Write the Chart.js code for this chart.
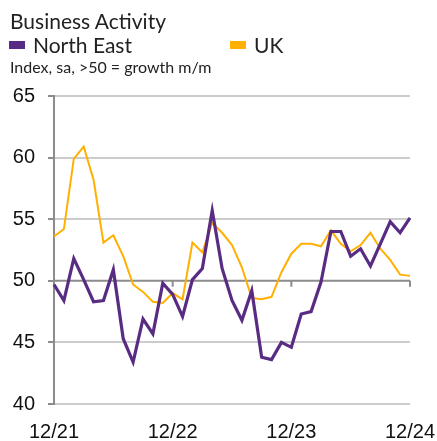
<!DOCTYPE html>
<html>
<head>
<meta charset="utf-8">
<script src="https://cdn.jsdelivr.net/npm/chart.js@4/dist/chart.umd.min.js"></script>
<style>
  html, body { margin: 0; padding: 0; background: #fff; }
  #wrap { position: relative; width: 437px; height: 441px; overflow: hidden; }
  #c { position: absolute; left: 0; top: 0; }
  .t { position: absolute; font-family: Lato, "Noto Sans", sans-serif; color: #222; white-space: nowrap; line-height: 1; }
  .sw { position: absolute; width: 16px; height: 8px; }
</style>
</head>
<body>
<div id="wrap">
  <canvas id="c" width="437" height="441"></canvas>
  <div class="t" style="left:10px; top:10px; font-size:21px;">Business Activity</div>
  <div class="sw" style="left:9px; top:41px; background:#582C83;"></div>
  <div class="t" style="left:33px; top:34px; font-size:21px;">North East</div>
  <div class="sw" style="left:230px; top:41px; background:#FFB000;"></div>
  <div class="t" style="left:254px; top:34px; font-size:21px;">UK</div>
  <div class="t" style="left:10px; top:59px; font-size:16px;">Index, sa, &gt;50 = growth m/m</div>
</div>
<script>
const months = ["12/21","01/22","02/22","03/22","04/22","05/22","06/22","07/22","08/22","09/22","10/22","11/22",
                "12/22","01/23","02/23","03/23","04/23","05/23","06/23","07/23","08/23","09/23","10/23","11/23",
                "12/23","01/24","02/24","03/24","04/24","05/24","06/24","07/24","08/24","09/24","10/24","11/24","12/24"];
const shownLabels = ["12/21","12/22","12/23","12/24"];
const northEast = [49.7,48.4,51.8,50.1,48.3,48.4,50.9,45.3,43.4,46.9,45.7,49.8,
                   48.9,47.1,50.1,51.0,55.7,51.0,48.4,46.8,49.2,43.8,43.6,45.0,
                   44.6,47.3,47.5,49.9,54.0,54.0,52.0,52.6,51.2,53.0,54.8,53.9,55.1];
const uk = [53.6,54.2,59.9,60.9,58.2,53.1,53.7,52.0,49.7,49.1,48.3,48.2,
            49.0,48.5,53.1,52.3,54.7,53.9,52.9,51.1,48.6,48.5,48.7,50.7,
            52.2,53.0,53.0,52.8,54.1,53.0,52.4,52.9,53.9,52.6,51.7,50.5,50.4];
const yTicks = [40,45,50,55,60,65];

const axis50 = {
  id: 'axis50',
  beforeDatasetsDraw(chart) {
    const {ctx, chartArea, scales} = chart;
    const y = scales.y.getPixelForValue(50);
    ctx.save();
    ctx.strokeStyle = '#8c8c8c';
    ctx.lineWidth = 2;
    ctx.beginPath();
    ctx.moveTo(chartArea.left, y);
    ctx.lineTo(chartArea.right, y);
    months.forEach((m, i) => {
      if (shownLabels.includes(m)) {
        const x = scales.x.getPixelForValue(i);
        ctx.moveTo(x, y);
        ctx.lineTo(x, y + 6);
      }
    });
    ctx.stroke();
    ctx.restore();
  }
};

new Chart(document.getElementById('c'), {
  type: 'line',
  data: {
    labels: months,
    datasets: [
      { label: 'UK', data: uk, borderColor: '#FFB000', borderWidth: 2, pointRadius: 0, tension: 0, order: 2 },
      { label: 'North East', data: northEast, borderColor: '#582C83', borderWidth: 3.2, pointRadius: 0, tension: 0, order: 1 }
    ]
  },
  plugins: [axis50],
  options: {
    responsive: false,
    animation: false,
    layout: { padding: { left: 12, right: 27, top: 96, bottom: 0 } },
    plugins: { legend: { display: false }, title: { display: false }, tooltip: { enabled: false } },
    scales: {
      x: {
        offset: false,
        afterFit: s => { s.height = 37; s.paddingRight = 0; s.paddingLeft = 0; },
        grid: { display: false, drawTicks: false },
        border: { display: false },
        ticks: {
          autoSkip: false, maxRotation: 0, padding: 16,
          color: '#111',
          font: { family: '"Liberation Sans", Arial, sans-serif', size: 20 },
          callback: (v, i) => shownLabels.includes(months[i]) ? months[i] : ''
        }
      },
      y: {
        min: 40, max: 65,
        afterFit: s => { s.width = 42; },
        afterBuildTicks: s => { s.ticks = yTicks.map(v => ({ value: v })); },
        grid: {
          color: c => c.tick && c.tick.value === 50 ? 'rgba(0,0,0,0)' : '#cccccc',
          lineWidth: 2,
          tickLength: 6,
          tickColor: '#8c8c8c'
        },
        border: { display: true, color: '#8c8c8c', width: 2 },
        ticks: {
          padding: 13,
          color: '#111',
          font: { family: '"Liberation Sans", Arial, sans-serif', size: 20 }
        }
      }
    }
  }
});
</script>
</body>
</html>
